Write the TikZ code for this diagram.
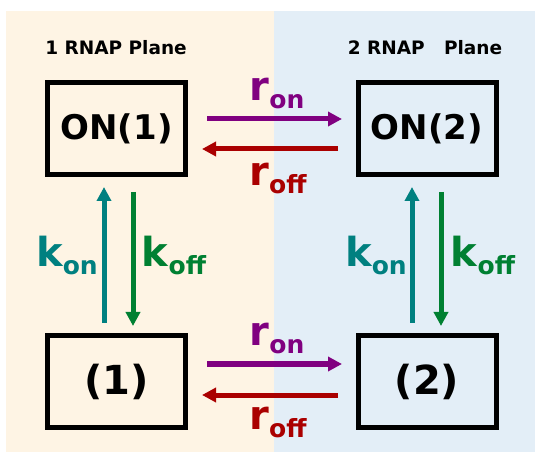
\documentclass[tikz,border=0pt]{standalone}
\usepackage{fontspec}
\setmainfont{DejaVu Sans}
\usetikzlibrary{arrows.meta}
\definecolor{bgL}{RGB}{254,244,228}
\definecolor{bgR}{RGB}{227,238,247}
\definecolor{cpurple}{RGB}{128,0,128}
\definecolor{cred}{RGB}{170,0,0}
\definecolor{cteal}{RGB}{0,128,128}
\definecolor{cgreen}{RGB}{0,128,50}
\newcommand{\ratelbl}[2]{\bfseries\fontsize{40}{40}\selectfont #1\raisebox{-8pt}{\fontsize{25}{25}\selectfont #2}}
\tikzset{
  statebox/.style={draw=black, line width=5pt, minimum width=138pt, minimum height=92pt, inner sep=0pt, font=\bfseries\fontsize{34}{34}\selectfont},
  bigtext/.style={font=\bfseries\fontsize{40}{40}\selectfont},
  title/.style={font=\bfseries\fontsize{18.5}{18.5}\selectfont, inner sep=0pt},
  ratearrow/.style={line width=5pt, -{Triangle[length=14pt,width=14pt]}},
  rlabel/.style={inner sep=0pt}
}
\begin{document}
\begin{tikzpicture}[x=1pt,y=-1pt]
\useasboundingbox (0,0) rectangle (536,457);
\fill[bgL] (6,11) rectangle (274,452);
\fill[bgR] (274,11) rectangle (535,452);
\node[title] (t1) at (116,48) {1 RNAP Plane};
\node[title] (t2) at (425,48) {2 RNAP\ \ \ Plane};
\node[statebox] (on1) at (116.5,128.5) {ON(1)};
\node[statebox] (on2) at (427,128.5) {ON(2)};
\node[statebox, bigtext] (s1) at (116.5,381.5) {(1)};
\node[statebox, bigtext] (s2) at (427,381.5) {(2)};
% horizontal arrows
\coordinate (a1) at (207,119); \coordinate (a2) at (342,119);
\coordinate (b1) at (338,149); \coordinate (b2) at (202,149);
\draw[ratearrow, cpurple] (a1) -- (a2);
\draw[ratearrow, cred] (b1) -- (b2);
\node[rlabel, text=cpurple] (ron1) at (277,93) {\ratelbl{r}{on}};
\node[rlabel, text=cred] (roff1) at (278,178) {\ratelbl{r}{off}};
\coordinate (c1) at (207,364); \coordinate (c2) at (342,364);
\coordinate (d1) at (338,395); \coordinate (d2) at (202,395);
\draw[ratearrow, cpurple] (c1) -- (c2);
\draw[ratearrow, cred] (d1) -- (d2);
\node[rlabel, text=cpurple] (ron2) at (277,338) {\ratelbl{r}{on}};
\node[rlabel, text=cred] (roff2) at (278,422) {\ratelbl{r}{off}};
% vertical arrows left
\coordinate (e1) at (104,323); \coordinate (e2) at (104,187);
\coordinate (f1) at (133,192); \coordinate (f2) at (133,326);
\draw[ratearrow, cteal] (e1) -- (e2);
\draw[ratearrow, cgreen] (f1) -- (f2);
\node[rlabel, text=cteal] (kon1) at (67,255) {\ratelbl{k}{on}};
\node[rlabel, text=cgreen] (koff1) at (174,255) {\ratelbl{k}{off}};
% vertical arrows right
\coordinate (g1) at (412,323); \coordinate (g2) at (412,187);
\coordinate (h1) at (441,192); \coordinate (h2) at (441,326);
\draw[ratearrow, cteal] (g1) -- (g2);
\draw[ratearrow, cgreen] (h1) -- (h2);
\node[rlabel, text=cteal] (kon2) at (376,255) {\ratelbl{k}{on}};
\node[rlabel, text=cgreen] (koff2) at (483,255) {\ratelbl{k}{off}};
\end{tikzpicture}
\end{document}
